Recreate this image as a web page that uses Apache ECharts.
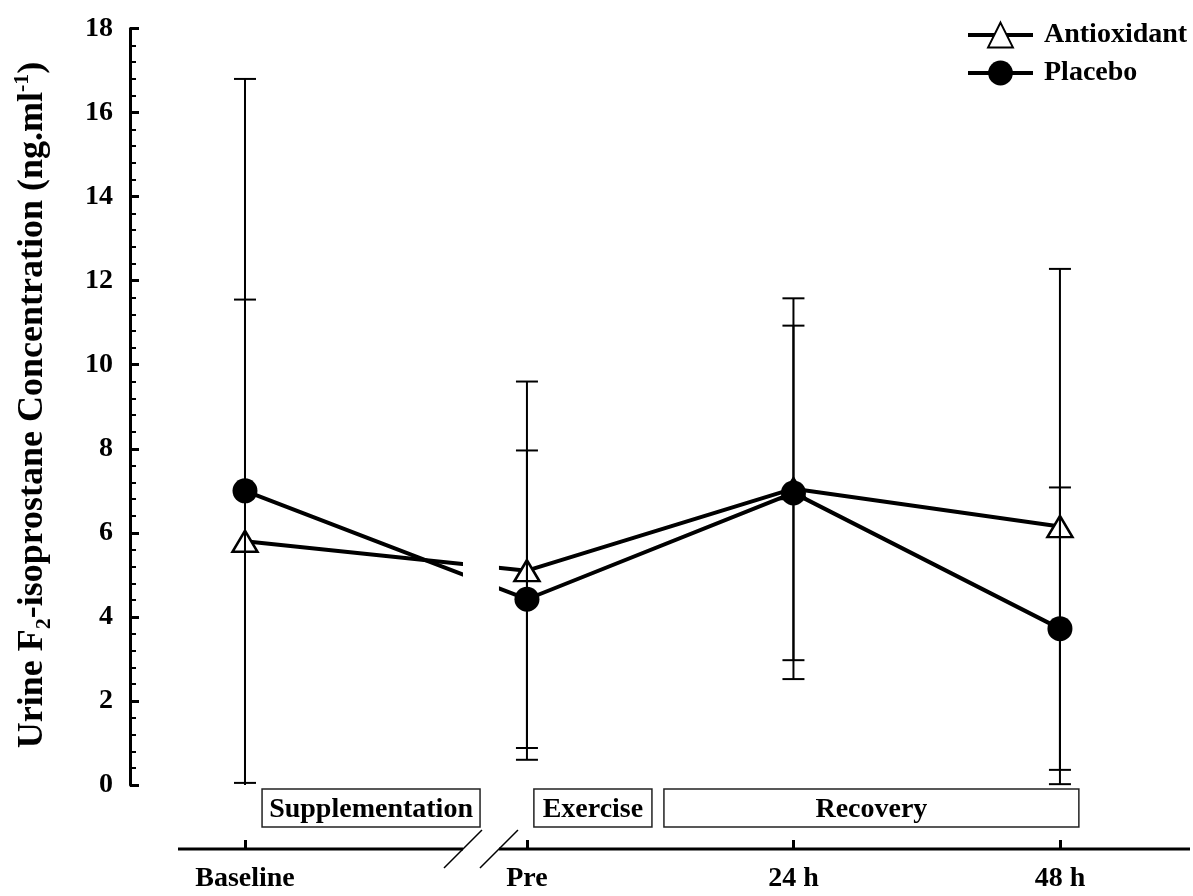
<!DOCTYPE html>
<html><head><meta charset="utf-8">
<script src="https://cdn.jsdelivr.net/npm/echarts@6/dist/echarts.min.js"></script>
<style>html,body{margin:0;padding:0;background:#fff}#c{width:1193px;height:896px}</style>
</head><body><div id="c"></div>
<script>
// ---- data ----
const categories = ['Baseline', 'Pre', '24 h', '48 h'];
const antioxidantMean = [5.8, 5.1, 7.05, 6.15];
const antioxidantSD = [5.75, 4.5, 4.53, 6.13];
const placeboMean = [7.0, 4.42, 6.95, 3.72];
const placeboSD = [9.8, 3.54, 3.98, 3.36];
const seriesNames = ['Antioxidant', 'Placebo'];
const phaseNames = ['Supplementation', 'Exercise', 'Recovery'];
const phaseSpans = [[0.064, 0.882], [1.084, 1.527], [1.572, 3.129]];
const yTitle = ['Urine F', '2', '-isoprostane Concentration (ng.ml', '-1', ')'];

// ---- layout config ----
const FONT = "'Liberation Serif', 'Times New Roman', serif";
const breakStart = 0.818, breakEnd = 0.953, breakShift = 0.058;
const xMin = -0.4315, xMax = 3.546, axisStart = -0.2514;
const xAxisOffset = 64;
const xPos = categories.map((c, i) => i + (i > 0 ? breakShift : 0));

const chart = echarts.init(document.getElementById('c'), null, {renderer: 'canvas'});

function errData(mean, sd) {
  return mean.map((m, i) => [xPos[i], m + sd[i], m - sd[i]]);
}
function renderErr(params, api) {
  const x = api.value(0), hi = api.value(1), lo = api.value(2);
  const pHi = api.coord([x, hi]);
  const pLo = api.coord([x, Math.max(lo, 0)]);
  const w = 11;
  const st = {stroke: '#000', lineWidth: 2};
  const ch = [
    {type: 'line', shape: {x1: pHi[0], y1: pHi[1], x2: pLo[0], y2: pLo[1]}, style: st},
    {type: 'line', shape: {x1: pHi[0] - w, y1: pHi[1], x2: pHi[0] + w, y2: pHi[1]}, style: st}
  ];
  if (lo >= 0) ch.push({type: 'line', shape: {x1: pLo[0] - w, y1: pLo[1], x2: pLo[0] + w, y2: pLo[1]}, style: st});
  return {type: 'group', children: ch};
}

const option = {
  animation: false,
  backgroundColor: '#fff',
  grid: {left: 130, right: 3, top: 28.5, bottom: 111, containLabel: false},
  legend: {
    data: seriesNames, orient: 'vertical', left: 961, top: 16,
    itemWidth: 65, itemHeight: 31, itemGap: 10,
    lineStyle: {width: 4, color: '#000'},
    textStyle: {fontSize: 28, fontWeight: 'bold', fontFamily: FONT, color: '#000', padding: [0, 0, 0, 6]}
  },
  xAxis: {
    type: 'value', min: xMin, max: xMax, offset: xAxisOffset,
    splitLine: {show: false},
    axisLine: {show: false, onZero: false},
    axisTick: {show: true, inside: true, length: 9, customValues: xPos, lineStyle: {color: '#000', width: 3}},
    axisLabel: {
      customValues: xPos, margin: 16,
      formatter: v => categories[Math.round(v - (v > 0.5 ? breakShift : 0))],
      fontSize: 28, fontWeight: 'bold', fontFamily: FONT, color: '#000'
    }
  },
  yAxis: {
    type: 'value', min: 0, max: 18, interval: 2,
    splitLine: {show: false},
    axisLine: {show: true, onZero: false, lineStyle: {color: '#000', width: 3}},
    axisTick: {show: true, inside: true, length: 9, lineStyle: {color: '#000', width: 3}},
    minorTick: {show: true, splitNumber: 5, length: 6, lineStyle: {color: '#000', width: 2}},
    axisLabel: {margin: 17, fontSize: 28, fontWeight: 'bold', fontFamily: FONT, color: '#000'}
  },
  graphic: [{
    type: 'text', x: 33, y: 405, rotation: Math.PI / 2,
    style: {
      text: '{m|' + yTitle[0] + '}{s|' + yTitle[1] + '}{m|' + yTitle[2] + '}{p|' + yTitle[3] + '}{m|' + yTitle[4] + '}',
      align: 'center', verticalAlign: 'middle',
      rich: {
        m: {fontSize: 36, fontWeight: 'bold', fontFamily: FONT, fill: '#000', lineHeight: 44},
        s: {fontSize: 22, fontWeight: 'bold', fontFamily: FONT, fill: '#000', lineHeight: 18, verticalAlign: 'bottom'},
        p: {fontSize: 22, fontWeight: 'bold', fontFamily: FONT, fill: '#000', lineHeight: 18, verticalAlign: 'top'}
      }
    }
  }],
  series: [
    {
      name: seriesNames[0], type: 'line', z: 2,
      data: antioxidantMean.map((v, i) => [xPos[i], v]),
      symbol: 'triangle', symbolSize: [25, 21],
      lineStyle: {color: '#000', width: 4},
      itemStyle: {color: '#fff', borderColor: '#000', borderWidth: 2.5}
    },
    {
      name: seriesNames[1], type: 'line', z: 2,
      data: placeboMean.map((v, i) => [xPos[i], v]),
      symbol: 'circle', symbolSize: 25,
      lineStyle: {color: '#000', width: 4},
      itemStyle: {color: '#000', borderColor: '#000', borderWidth: 0}
    },
    {
      // axis break: mask gap in lines, broken x axis line, slashes
      type: 'custom', z: 3, clip: false, silent: true,
      data: [[0]],
      renderItem: (params, api) => {
        const a = api.coord([breakStart, 18]);
        const b = api.coord([breakEnd, 0]);
        const y0 = api.coord([0, 0])[1] + xAxisOffset;
        const xs = api.coord([axisStart, 0])[0];
        const xe = api.coord([xMax, 0])[0];
        const ax = {stroke: '#000', lineWidth: 3};
        const sl = {stroke: '#000', lineWidth: 1.5};
        const d = 19;
        return {type: 'group', children: [
          {type: 'rect', shape: {x: a[0], y: a[1], width: b[0] - a[0], height: b[1] - a[1]}, style: {fill: '#fff'}},
          {type: 'line', shape: {x1: xs, y1: y0, x2: a[0], y2: y0}, style: ax},
          {type: 'line', shape: {x1: b[0], y1: y0, x2: xe, y2: y0}, style: ax},
          {type: 'line', shape: {x1: a[0] - d, y1: y0 + d, x2: a[0] + d, y2: y0 - d}, style: sl},
          {type: 'line', shape: {x1: b[0] - d, y1: y0 + d, x2: b[0] + d, y2: y0 - d}, style: sl}
        ]};
      }
    },
    {
      type: 'custom', z: 4, clip: false, silent: true,
      data: phaseSpans.map((s, i) => [s[0], s[1], i]),
      renderItem: (params, api) => {
        const p1 = api.coord([api.value(0), 0]);
        const p2 = api.coord([api.value(1), 0]);
        const top = p1[1] + 4, h = 38;
        return {type: 'group', children: [
          {type: 'rect', shape: {x: p1[0], y: top, width: p2[0] - p1[0], height: h}, style: {fill: '#fff', stroke: '#222', lineWidth: 1.5}},
          {type: 'text', style: {text: phaseNames[api.value(2)], x: (p1[0] + p2[0]) / 2, y: top + h / 2 + 2,
            align: 'center', verticalAlign: 'middle', font: 'bold 28px ' + FONT, fill: '#000'}}
        ]};
      }
    },
    {
      type: 'custom', z: 5, clip: false, silent: true,
      data: errData(antioxidantMean, antioxidantSD), renderItem: renderErr
    },
    {
      type: 'custom', z: 5, clip: false, silent: true,
      data: errData(placeboMean, placeboSD), renderItem: renderErr
    }
  ]
};
chart.setOption(option);
</script></body></html>
